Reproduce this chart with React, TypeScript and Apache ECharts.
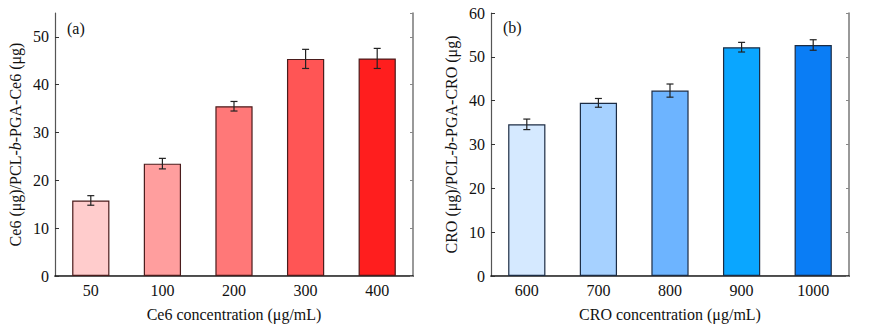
import React, { useEffect, useRef } from "react";
import * as echarts from "echarts";

const catsA = ["50", "100", "200", "300", "400"];
const valsA = [15.8, 23.5, 35.5, 45.4, 45.5];
const errA = [1.0, 1.1, 1.0, 2.0, 2.1];
const colorsA = ["#FFCCCC", "#FF9E9E", "#FF7878", "#FF5555", "#FF1E1E"];

const catsB = ["600", "700", "800", "900", "1000"];
const valsB = [34.6, 39.5, 42.3, 52.2, 52.7];
const errB = [1.2, 1.0, 1.5, 1.1, 1.2];
const colorsB = ["#D5E9FF", "#A6D1FF", "#6DB4FF", "#0AA6FF", "#0A7DF5"];

const FONT = "Liberation Serif";

export default function App() {
  const ref = useRef<HTMLDivElement>(null);
  useEffect(() => {
    if (!ref.current) return;
    const chart = echarts.init(ref.current, undefined, { renderer: "svg" });

    const mkErr = (vals: number[], errs: number[], idx: number) => ({
      type: "custom",
      xAxisIndex: idx * 2,
      yAxisIndex: idx * 2,
      z: 10,
      data: vals.map((v, i) => [i, v - errs[i], v + errs[i]]),
      renderItem: (params: any, api: any) => {
        const lo = api.coord([api.value(0), api.value(1)]);
        const hi = api.coord([api.value(0), api.value(2)]);
        const x = lo[0];
        const hw = 3.5;
        const st = { stroke: "#222", lineWidth: 1.2 };
        return {
          type: "group",
          children: [
            { type: "line", shape: { x1: x, y1: lo[1], x2: x, y2: hi[1] }, style: st },
            { type: "line", shape: { x1: x - hw, y1: lo[1], x2: x + hw, y2: lo[1] }, style: st },
            { type: "line", shape: { x1: x - hw, y1: hi[1], x2: x + hw, y2: hi[1] }, style: st },
          ],
        };
      },
    });

    const axisLabelStyle = { fontFamily: FONT, fontSize: 16, color: "#111" };
    const nameStyle = {
      fontFamily: FONT,
      fontSize: 16,
      color: "#111",
      rich: { i: { fontFamily: FONT, fontSize: 16, fontStyle: "italic", color: "#111" } },
    };
    const mkX = (cats: string[], gi: number, name: string) => [
      {
        type: "category",
        gridIndex: gi,
        data: cats,
        position: "bottom",
        axisLine: { lineStyle: { color: "#111", width: 1.5 } },
        axisTick: { inside: true, alignWithLabel: true, length: 3, lineStyle: { color: "#333" } },
        axisLabel: { ...axisLabelStyle, margin: 6 },
        name,
        nameLocation: "middle",
        nameGap: 30,
        nameTextStyle: nameStyle,
      },
      {
        type: "category",
        gridIndex: gi,
        data: cats,
        position: "top",
        axisLine: { lineStyle: { color: "#555", width: 1.2 } },
        axisTick: { show: false },
        axisLabel: { show: false },
      },
    ];
    const mkY = (gi: number, max: number, name: string) => [
      {
        type: "value",
        gridIndex: gi,
        min: 0,
        max,
        interval: 10,
        position: "left",
        axisLine: { show: true, lineStyle: { color: "#555", width: 1.2 } },
        axisTick: { show: true, inside: true, length: 4, lineStyle: { color: "#333" } },
        axisLabel: { ...axisLabelStyle, margin: 6, showMaxLabel: max % 10 === 0 },
        splitLine: { show: false },
        name,
        nameLocation: "middle",
        nameGap: 32,
        nameTextStyle: nameStyle,
      },
      {
        type: "value",
        gridIndex: gi,
        min: 0,
        max,
        interval: 10,
        position: "right",
        axisLine: { show: true, lineStyle: { color: "#777", width: 1.5 } },
        axisTick: { show: true, inside: true, length: 3, lineStyle: { color: "#888" } },
        axisLabel: { show: false },
        splitLine: { show: false },
      },
    ];

    const mkBar = (vals: number[], colors: string[], border: string, idx: number) => ({
      type: "bar",
      xAxisIndex: idx * 2,
      yAxisIndex: idx * 2,
      barWidth: "52%",
      data: vals.map((v, i) => ({
        value: v,
        itemStyle: { color: colors[i], borderColor: border, borderWidth: 1.2 },
      })),
    });

    chart.setOption({
      animation: false,
      grid: [
        { left: 55, top: 13, width: 358, height: 264 },
        { left: 491, top: 13, width: 358, height: 264 },
      ],
      xAxis: [
        ...mkX(catsA, 0, "Ce6 concentration (μg/mL)"),
        ...mkX(catsB, 1, "CRO concentration (μg/mL)"),
      ],
      yAxis: [
        ...mkY(0, 55, "Ce6 (μg)/PCL-{i|b}-PGA-Ce6 (μg)"),
        ...mkY(1, 60, "CRO (μg)/PCL-{i|b}-PGA-CRO (μg)"),
      ],
      series: [
        mkBar(valsA, colorsA, "#4a1c1c", 0),
        mkErr(valsA, errA, 0),
        mkBar(valsB, colorsB, "#1c2c44", 1),
        mkErr(valsB, errB, 1),
      ],
      graphic: [
        { type: "text", left: 67, top: 20, style: { text: "(a)", fontFamily: FONT, fontSize: 16, fill: "#111" } },
        { type: "text", left: 503, top: 19, style: { text: "(b)", fontFamily: FONT, fontSize: 16, fill: "#111" } },
      ],
    });
    return () => chart.dispose();
  }, []);
  return (
    <div
      ref={ref}
      style={{ position: "fixed", left: 0, top: 0, width: 887, height: 327, background: "#fff" }}
    />
  );
}
